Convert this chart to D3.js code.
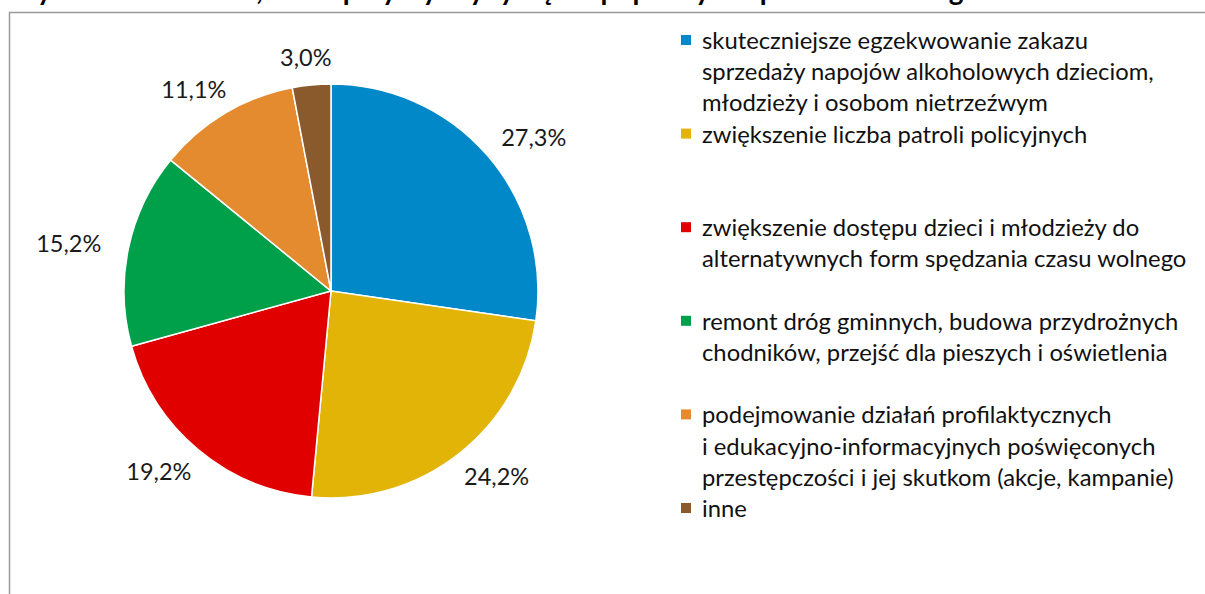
<!DOCTYPE html>
<html lang="pl">
<head>
<meta charset="utf-8">
<script src="https://cdn.jsdelivr.net/npm/d3@7"></script>
<style>
  html, body { margin: 0; padding: 0; background: #fff; }
  svg { display: block; }
  text { font-family: Lato, "Open Sans", "DejaVu Sans", sans-serif; }
</style>
</head>
<body>
<svg id="chart" width="1205" height="594"></svg>
<script>
// Answer categories (legend lines as they wrap in the legend)
const categories = [
  ["skuteczniejsze egzekwowanie zakazu", "sprzedaży napojów alkoholowych dzieciom,", "młodzieży i osobom nietrzeźwym"],
  ["zwiększenie liczba patroli policyjnych"],
  ["zwiększenie dostępu dzieci i młodzieży do", "alternatywnych form spędzania czasu wolnego"],
  ["remont dróg gminnych, budowa przydrożnych", "chodników, przejść dla pieszych i oświetlenia"],
  ["podejmowanie działań profilaktycznych", "i edukacyjno-informacyjnych poświęconych", "przestępczości i jej skutkom (akcje, kampanie)"],
  ["inne"]
];
// Share of answers, %
const values = [27.3, 24.2, 19.2, 15.2, 11.1, 3.0];
const colors = ["#0088c9", "#e2b407", "#e10000", "#00a04b", "#e48a2f", "#8b5a2c"];
const title = "Wykres 7. Działania, które przyczyniłyby się do poprawy bezpieczeństwa w gminie";

const svg = d3.select("#chart");

// Title (runs above the top edge of the page, only descenders remain in view)
svg.append("text")
  .attr("x", 8).attr("y", -0.5)
  .attr("font-size", 28).attr("font-weight", "bold")
  .attr("fill", "#000")
  .text(title);

// Chart area frame
svg.append("rect")
  .attr("x", 9.5).attr("y", 12.5)
  .attr("width", 1300).attr("height", 700)
  .attr("fill", "none").attr("stroke", "#9a9a9a").attr("stroke-width", 1.5);

// Pie
const cx = 331, cy = 291, r = 207;
const pie = d3.pie().sort(null).value(d => d)(values);
const arc = d3.arc().innerRadius(0).outerRadius(r);
const g = svg.append("g").attr("transform", `translate(${cx},${cy})`);

g.selectAll("path.slice")
  .data(pie)
  .join("path")
  .attr("class", "slice")
  .attr("d", arc)
  .attr("fill", (d, i) => colors[i])
  .attr("stroke", "#fff")
  .attr("stroke-width", 1.5);

// Value labels placed outside the pie
const fmt = v => d3.format(".1f")(v).replace(".", ",") + "%";
const rx = 268, ry = 235;
g.selectAll("text.val")
  .data(pie)
  .join("text")
  .attr("class", "val")
  .attr("x", d => rx * Math.sin((d.startAngle + d.endAngle) / 2))
  .attr("y", d => -ry * Math.cos((d.startAngle + d.endAngle) / 2))
  .attr("text-anchor", "middle")
  .attr("dominant-baseline", "central")
  .attr("font-size", 23.5)
  .attr("fill", "#1a1a1a")
  .text(d => fmt(d.data));

// Legend
const lx = 681, ly = 40, lineH = 31.2, slots = 3;
const legend = svg.append("g");
categories.forEach((lines, i) => {
  const y0 = ly + i * slots * lineH;
  legend.append("rect")
    .attr("x", lx).attr("y", y0 - 5)
    .attr("width", 10).attr("height", 10)
    .attr("fill", colors[i]);
  const t = legend.append("text")
    .attr("font-size", 23.8)
    .attr("fill", "#111");
  lines.forEach((ln, j) => {
    t.append("tspan")
      .attr("x", lx + 21)
      .attr("y", y0 + j * lineH)
      .attr("dominant-baseline", "central")
      .text(ln);
  });
});
</script>
</body>
</html>
